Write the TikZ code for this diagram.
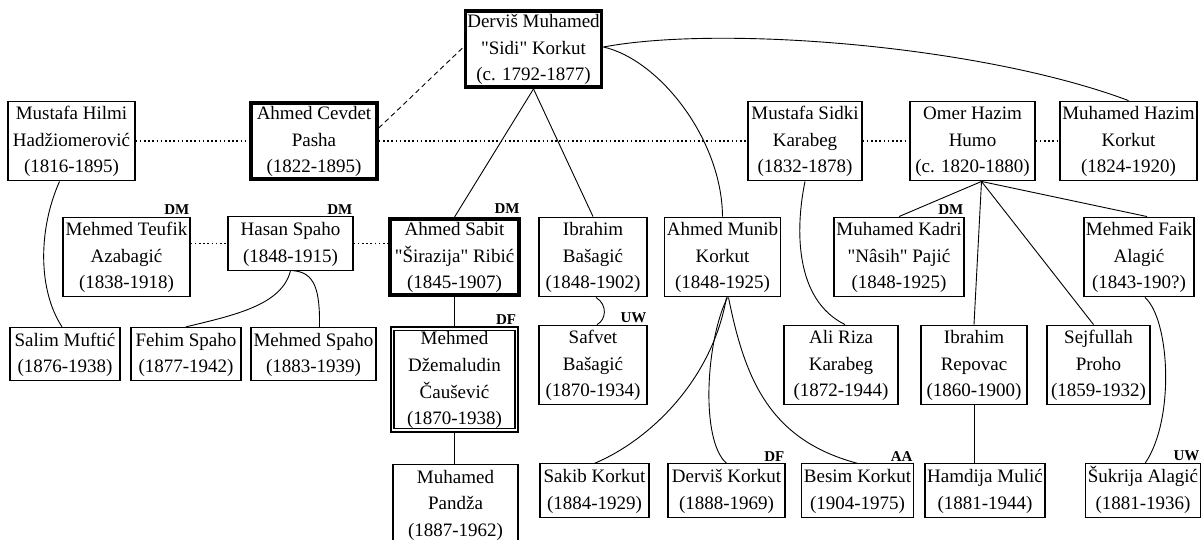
\documentclass[tikz,border=0pt]{standalone}
\usepackage{fontspec}
\setmainfont{Liberation Serif}[Ligatures=TeXOff]
\newcommand\pfont{\fontsize{19}{26.6}\selectfont}
\newcommand\tfont{\fontsize{15}{15}\selectfont\bfseries}
\tikzset{
  box/.style={draw, line width=1.1pt, inner xsep=2pt, inner ysep=0pt, align=center, font=\pfont},
  thickbox/.style={box, line width=3.5pt, inner ysep=-1.75pt},
  dblbox/.style={box, double, line width=1.6pt, double distance=1.8pt, inner ysep=-2.5pt},
  tag/.style={font=\tfont, inner sep=0pt, anchor=south east},
  link/.style={line width=0.9pt},
  dotline/.style={line width=1.2pt, dash pattern=on 1.6pt off 2.6pt},
  dashline/.style={line width=0.9pt, dash pattern=on 5pt off 3.5pt}
}
\begin{document}
\begin{tikzpicture}[x=1pt,y=-1pt]
\path[use as bounding box] (0,0) rectangle (1203,539);
\clip (0,0) rectangle (1203,539);
\fill[white] (0,0) rectangle (1203,539);

% row 1
\node[thickbox, minimum width=133pt] (sidi) at (533.5,49) {\strut Derviš Muhamed\\\strut "Sidi" Korkut\\\strut (c. 1792-1877)};
% row 2
\node[box, minimum width=127pt] (hilmi) at (71.5,141) {\strut Mustafa Hilmi\\\strut Hadžiomerović\\\strut (1816-1895)};
\node[thickbox, minimum width=126pt] (cevdet) at (314,141) {\strut Ahmed Cevdet\\\strut Pasha\\\strut (1822-1895)};
\node[box, minimum width=114pt] (sidki) at (805,141) {\strut Mustafa Sidki\\\strut Karabeg\\\strut (1832-1878)};
\node[box, minimum width=125pt] (omer) at (972.5,141) {\strut Omer Hazim\\\strut Humo\\\strut (c. 1820-1880)};
\node[box, minimum width=137pt] (mhazim) at (1128.5,141) {\strut Muhamed Hazim\\\strut Korkut\\\strut (1824-1920)};
% row 3
\node[box, minimum width=127pt] (teufik) at (126.5,257) {\strut Mehmed Teufik\\\strut Azabagić\\\strut (1838-1918)};
\node[box, minimum width=125pt] (hasan) at (290.5,243.5) {\strut Hasan Spaho\\\strut (1848-1915)};
\node[thickbox, minimum width=129pt] (ribic) at (454.5,257) {\strut Ahmed Sabit\\\strut "Širazija" Ribić\\\strut (1845-1907)};
\node[box, minimum width=108pt] (ibrahim) at (593,257) {\strut Ibrahim\\\strut Bašagić\\\strut (1848-1902)};
\node[box, minimum width=111pt] (munib) at (722.5,257) {\strut Ahmed Munib\\\strut Korkut\\\strut (1848-1925)};
\node[box, minimum width=130pt] (kadri) at (899,257) {\strut Muhamed Kadri\\\strut "Nâsih" Pajić\\\strut (1848-1925)};
\node[box, minimum width=108pt] (faik) at (1139,257) {\strut Mehmed Faik\\\strut Alagić\\\strut (1843-190?)};
% row 4
\node[box, minimum width=110pt] (salim) at (65,354) {\strut Salim Muftić\\\strut (1876-1938)};
\node[box, minimum width=110pt] (fehim) at (186,354) {\strut Fehim Spaho\\\strut (1877-1942)};
\node[box, minimum width=125pt] (mspaho) at (313.5,354) {\strut Mehmed Spaho\\\strut (1883-1939)};
\node[dblbox, minimum width=124pt] (dzemal) at (454.5,379.5) {\strut Mehmed\\\strut Džemaludin\\\strut Čaušević\\\strut (1870-1938)};
\node[box, minimum width=108pt] (safvet) at (593,365) {\strut Safvet\\\strut Bašagić\\\strut (1870-1934)};
\node[box, minimum width=114pt] (aliriza) at (841,365) {\strut Ali Riza\\\strut Karabeg\\\strut (1872-1944)};
\node[box, minimum width=106pt] (repovac) at (974,365) {\strut Ibrahim\\\strut Repovac\\\strut (1860-1900)};
\node[box, minimum width=103pt] (sejfullah) at (1098.5,365) {\strut Sejfullah\\\strut Proho\\\strut (1859-1932)};
% row 5
\node[box, minimum width=125pt] (pandza) at (455.5,504.5) {\strut Muhamed\\\strut Pandža\\\strut (1887-1962)};
\node[box, minimum width=109pt] (sakib) at (594.5,490.5) {\strut Sakib Korkut\\\strut (1884-1929)};
\node[box, minimum width=117pt] (dervisk) at (726.5,490.5) {\strut Derviš Korkut\\\strut (1888-1969)};
\node[box, minimum width=111pt] (besim) at (857.5,490.5) {\strut Besim Korkut\\\strut (1904-1975)};
\node[box, minimum width=120pt] (hamdija) at (985,490.5) {\strut Hamdija Mulić\\\strut (1881-1944)};
\node[box, minimum width=114pt] (sukrija) at (1143,490.5) {\strut Šukrija Alagić\\\strut (1881-1936)};

% tags
\node[tag] (tteufik) at ([xshift=-1pt,yshift=2pt]teufik.north east) {DM};
\node[tag] (thasan) at ([xshift=-1pt,yshift=2pt]hasan.north east) {DM};
\node[tag] (tribic) at ([xshift=-1pt,yshift=3pt]ribic.north east) {DM};
\node[tag] (tkadri) at ([xshift=-1pt,yshift=2pt]kadri.north east) {DM};
\node[tag] (tdzemal) at ([xshift=-1pt,yshift=3pt]dzemal.north east) {DF};
\node[tag] (tsafvet) at ([xshift=-1pt,yshift=2pt]safvet.north east) {UW};
\node[tag] (tdervisk) at ([xshift=-1pt,yshift=2pt]dervisk.north east) {DF};
\node[tag] (tbesim) at ([xshift=-1pt,yshift=2pt]besim.north east) {AA};
\node[tag] (tsukrija) at ([xshift=-1pt,yshift=2pt]sukrija.north east) {UW};

% dotted (marriage) lines
\draw[dotline] (hilmi.east) -- (cevdet.west);
\draw[dotline] (cevdet.east) -- (sidki.west);
\draw[dotline] (sidki.east) -- (omer.west);
\draw[dotline] (omer.east) -- (mhazim.west);
\draw[dotline] (teufik.east |- hasan.west) -- (hasan.west);
\draw[dotline] (hasan.east) -- (hasan.east -| ribic.west);

% dashed
\draw[dashline] ([yshift=13pt]cevdet.east) -- ([yshift=2pt]sidi.west);

% links from Sidi
\draw[link] (sidi.south) -- (ribic.north);
\draw[link] (sidi.south) -- (ibrahim.north);
\draw[link] ([yshift=2pt]sidi.east) .. controls (660,60) and (722,140) .. (munib.north);
\draw[link] ([yshift=2pt]sidi.east) .. controls (720,25) and (980,45) .. (mhazim.north);

% others
\draw[link] ([xshift=-12pt]hilmi.south) .. controls (38,230) and (38,290) .. ([xshift=-3pt]salim.north);
\draw[link] (hasan.south) .. controls (282,305) and (235,315) .. (fehim.north);
\draw[link] ([xshift=2pt]hasan.south) .. controls (315,272) and (320,290) .. ([xshift=6pt]mspaho.north);
\draw[link] (ribic.south) -- (dzemal.north);
\draw[link] (dzemal.south) -- (dzemal.south |- pandza.north);
\draw[link] ([xshift=3pt]ibrahim.south) .. controls (608,305) and (606,320) .. ([xshift=4pt]safvet.north);
\draw[link] ([xshift=4pt]munib.south) .. controls (712,380) and (650,440) .. (sakib.north);
\draw[link] ([xshift=5pt]munib.south) .. controls (706,340) and (700,440) .. (dervisk.north);
\draw[link] ([xshift=6pt]munib.south) .. controls (745,380) and (770,440) .. (besim.north);
\draw[link] (sidki.south) .. controls (795,230) and (795,300) .. ([xshift=4pt]aliriza.north);
\coordinate (om) at ([xshift=9pt]omer.south);
\draw[link] (om) -- (kadri.north);
\draw[link] (om) -- (repovac.north);
\draw[link] (om) -- ([xshift=-5pt]sejfullah.north);
\draw[link] (om) -- ([xshift=8pt]faik.north);
\draw[link] ([xshift=6pt]faik.south) .. controls (1170,320) and (1175,420) .. ([xshift=2pt]sukrija.north);
\draw[link] (repovac.south) -- (repovac.south |- hamdija.north);
\end{tikzpicture}
\end{document}
